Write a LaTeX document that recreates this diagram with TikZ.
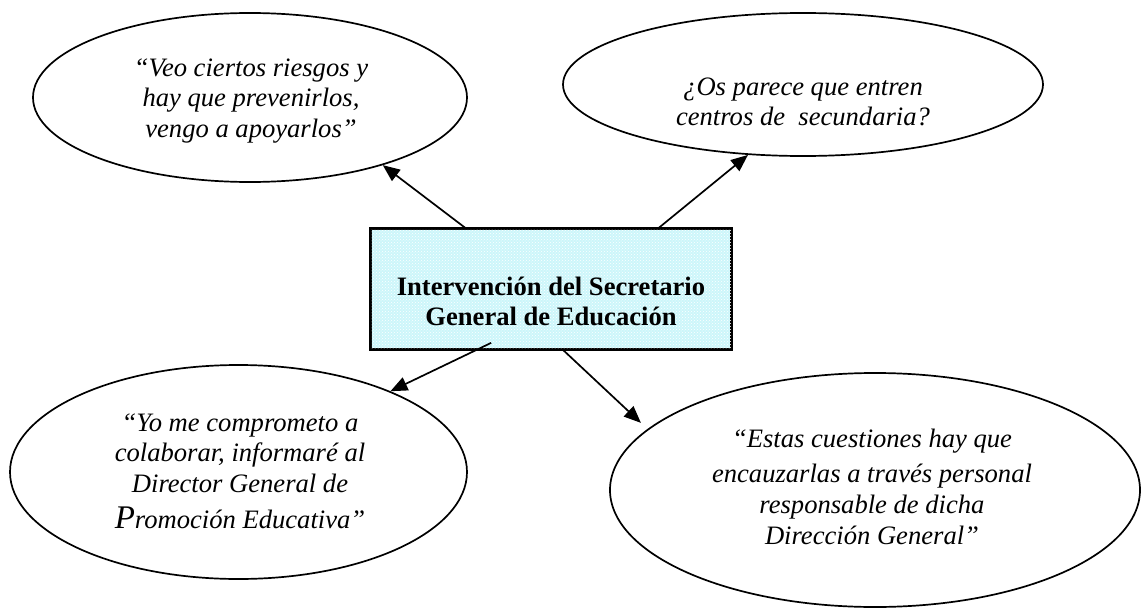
\documentclass[tikz,border=0pt]{standalone}
\usepackage{fontspec}
\setmainfont{Liberation Serif}
\usetikzlibrary{shapes.geometric,arrows.meta,calc,patterns}
\definecolor{boxcyan}{RGB}{204,246,250}
\begin{document}
\begin{tikzpicture}[x=1pt,y=-1pt,
  bubble/.style={draw,ellipse,line width=1.7pt,inner sep=0pt},
  quotetext/.style={font=\fontsize{26.6}{30.6}\selectfont\itshape,align=center,inner sep=0pt,anchor=north},
  titletext/.style={font=\fontsize{26.6}{30.6}\selectfont\bfseries,align=center,inner sep=0pt,anchor=north},
  mainbox/.style={draw,line width=1.7pt,fill=boxcyan,inner sep=0pt,minimum width=360pt,minimum height=120pt,
    postaction={pattern=crosshatch dots,pattern color=white}},
  link/.style={line width=1.7pt,-{Triangle[length=17pt,width=14pt]}},
]
\fill[white] (0,0) rectangle (1143,610);
\useasboundingbox (0,0) rectangle (1143,610);

\node[bubble,minimum width=434pt,minimum height=169pt] (tl) at (250,97.5) {};
\node[bubble,minimum width=480pt,minimum height=143pt] (tr) at (803,84.5) {};
\node[bubble,minimum width=457pt,minimum height=214pt] (bl) at (238.5,472) {};
\node[bubble,minimum width=530pt,minimum height=234pt] (br) at (875,490) {};
\node[mainbox] (box) at (551,289) {};
\draw[line width=1.7pt] (box.south west) rectangle (box.north east);

\node[titletext] (boxtxt) at (551,273.6) {\strut Intervención del Secretario\\\strut General de Educación};
\node[quotetext] (tltxt) at (251,54.6) {\strut “Veo ciertos riesgos y\\\strut hay que prevenirlos,\\\strut vengo a apoyarlos”};
\node[quotetext] (trtxt) at (803,73.6) {\strut ¿Os parece que entren\\\strut centros de\ \ secundaria?};
\node[quotetext] (bltxt) at (240,409.6) {\strut “Yo me comprometo a\\\strut colaborar, informaré al\\\strut Director General de\\[4pt]\strut{\fontsize{33}{36}\selectfont P}romoción Educativa”};
\node[quotetext] (brtxt) at (872,425.6) {\strut “Estas cuestiones hay que\\[5pt]\strut encauzarlas a través personal\\\strut responsable de dicha\\\strut Dirección General”};

\draw[link] ($(box.north west)!0.264!(box.north east)$) -- (tl.-27);
\draw[link] ($(box.north west)!0.797!(box.north east)$) -- (tr.-128);
\draw[link] ($(box.south west)+(121,-7)$) -- (bl.28);
\draw[link,shorten >=9pt] ($(box.south west)!0.533!(box.south east)$) -- (br.165);
\end{tikzpicture}
\end{document}
